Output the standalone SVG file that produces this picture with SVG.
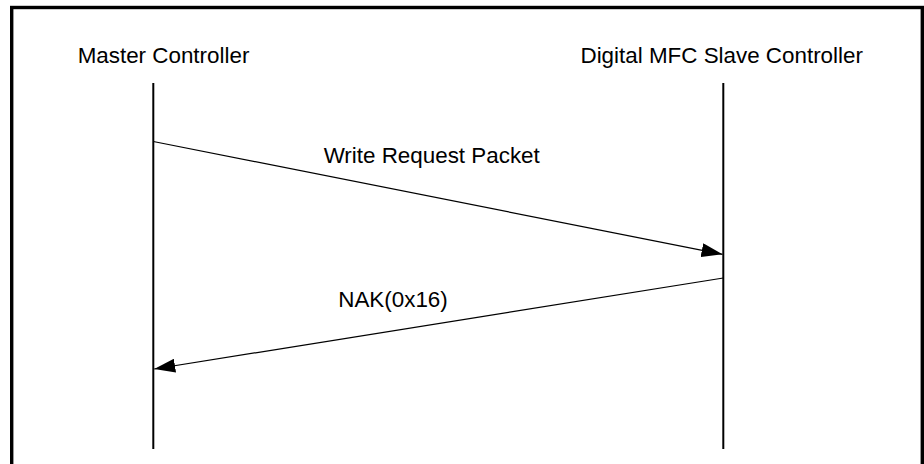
<svg xmlns="http://www.w3.org/2000/svg" width="924" height="464" viewBox="0 0 924 464">
<defs>
<style>
text { font-family: "Liberation Sans", Arial, sans-serif; font-size: 22.4px; fill: #000; text-anchor: middle; }
.life { stroke: #000; stroke-width: 2; fill: none; }
.msg { stroke: #000; stroke-width: 1.2; fill: none; }
.frame { stroke: #000; stroke-width: 3.4; fill: #fff; }
</style>
<marker id="arrow" markerUnits="userSpaceOnUse" markerWidth="22" markerHeight="14" viewBox="0 0 22 14" refX="21" refY="7" orient="auto">
<path d="M0,0 L21,7 L0,14 Z" fill="#000"/>
</marker>
</defs>
<rect class="frame" x="11.7" y="7.5" width="910.6" height="480"/>
<g id="master">
<text x="163.5" y="63.3">Master Controller</text>
<line class="life" x1="153.3" y1="83" x2="153.3" y2="449"/>
</g>
<g id="slave">
<text x="721.7" y="63.3">Digital MFC Slave Controller</text>
<line class="life" x1="723.3" y1="83" x2="723.3" y2="449"/>
</g>
<g id="connectors">
<line class="msg" x1="153.3" y1="141.5" x2="722.5" y2="254.3" marker-end="url(#arrow)"/>
<text x="431.7" y="162.7">Write Request Packet</text>
<line class="msg" x1="723.3" y1="278" x2="154.2" y2="369" marker-end="url(#arrow)"/>
<text x="393" y="306.7">NAK(0x16)</text>
</g>
</svg>
